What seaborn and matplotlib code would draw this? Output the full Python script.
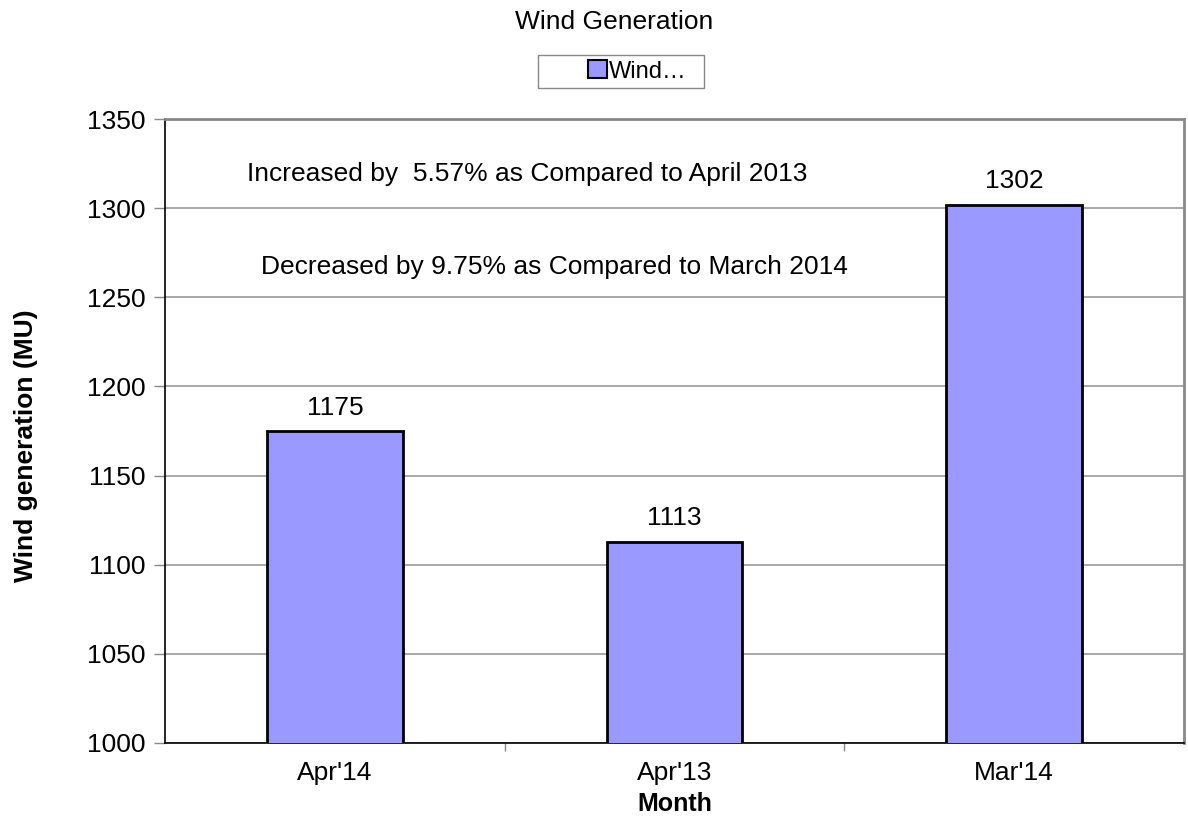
import matplotlib
matplotlib.use('Agg')
import matplotlib.pyplot as plt
import seaborn as sns
import pandas as pd
from matplotlib.patches import Patch, Rectangle

# 数据
months = ["Apr'14", "Apr'13", "Mar'14"]
wind_mu = [1175, 1113, 1302]
notes = ["Increased by  5.57% as Compared to April 2013",
         "Decreased by 9.75% as Compared to March 2014"]

sns.set_theme(style='white')
plt.rcParams['font.family'] = ['Liberation Sans', 'DejaVu Sans']
plt.rcParams['text.color'] = 'black'
plt.rcParams['axes.labelcolor'] = 'black'
plt.rcParams['xtick.color'] = 'black'
plt.rcParams['ytick.color'] = 'black'

df = pd.DataFrame({'month': months, 'wind': wind_mu})

fig = plt.figure(figsize=(11.88, 8.19), dpi=100)
ax = fig.add_axes([0.1389, 0.0928, 0.8577, 0.7619])

bar_color = '#9999ff'
sns.barplot(data=df, x='month', y='wind', color=bar_color, width=0.4,
            edgecolor='black', linewidth=2, saturation=1, ax=ax, zorder=3)

ax.set_ylim(1000, 1350)
ax.set_yticks(range(1000, 1351, 50))
ax.set_xlim(-0.5, 2.5)
ax.yaxis.grid(True, color='#999999', linewidth=1.2, zorder=0)
ax.set_axisbelow(True)

# 数值标签
for i, v in enumerate(wind_mu):
    ax.annotate(str(v), (i, v), xytext=(0, 8), textcoords='offset points',
                ha='center', va='bottom', fontsize=19)

# 注释
ax.text(0.567, 1319, notes[0], ha='center', va='center', fontsize=19)
ax.text(0.648, 1267, notes[1], ha='center', va='center', fontsize=19)

ax.set_xlabel('Month', fontsize=18, fontweight='bold', labelpad=5)
ax.set_ylabel('Wind generation (MU)', fontsize=19, fontweight='bold')
ax.yaxis.set_label_coords(-0.1246, 0.476)
ax.tick_params(axis='both', labelsize=19)
ax.tick_params(axis='y', length=8, width=1, color='#888888', direction='out', left=True, pad=6)
ax.tick_params(axis='x', length=0, pad=13)
# 类别之间的刻度线
ax.set_xticks([0.5, 1.5], minor=True)
ax.tick_params(axis='x', which='minor', length=6, color='#888888', bottom=True)

for side in ['top', 'right']:
    ax.spines[side].set_color('#888888')
    ax.spines[side].set_linewidth(2)
ax.spines['left'].set_color('black')
ax.spines['left'].set_linewidth(1.2)
ax.spines['bottom'].set_color('black')
ax.spines['bottom'].set_linewidth(1.2)

fig.text(0.517, 0.973, 'Wind Generation', ha='center', va='center', fontsize=19)

# 图例：外框单独画，标记靠右
fig.patches.append(Rectangle((0.4529, 0.8926), 0.1397, 0.0403, transform=fig.transFigure,
                             facecolor='white', edgecolor='#888888', linewidth=1))
handle = Patch(facecolor=bar_color, edgecolor='black', linewidth=1.5)
fig.legend([handle], ['Wind…'], loc='center left', bbox_to_anchor=(588 / 1188, 0.9127),
           fontsize=17, frameon=False, borderpad=0, borderaxespad=0,
           handlelength=0.8, handleheight=0.8, handletextpad=0.1)

fig.savefig('out.png', dpi=100)
